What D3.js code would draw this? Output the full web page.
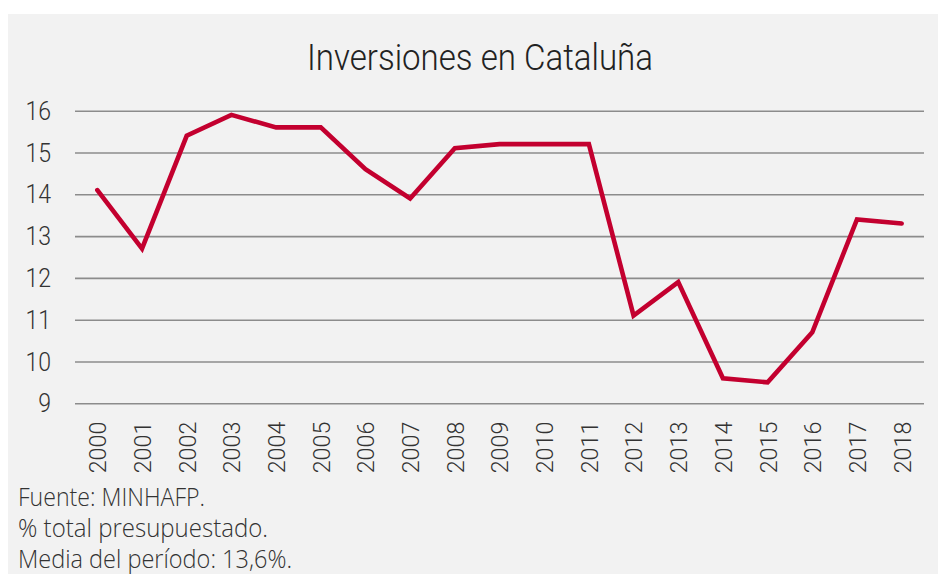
<!DOCTYPE html>
<html>
<head>
<meta charset="utf-8">
<script src="https://cdn.jsdelivr.net/npm/d3@7"></script>
<style>
  html, body { margin: 0; padding: 0; background: #ffffff; }
  svg { display: block; }
</style>
</head>
<body>
<svg id="chart" width="938" height="574"></svg>
<script>
const years = ["2000","2001","2002","2003","2004","2005","2006","2007","2008","2009","2010","2011","2012","2013","2014","2015","2016","2017","2018"];
const values = [14.1, 12.7, 15.4, 15.9, 15.6, 15.6, 14.6, 13.9, 15.1, 15.2, 15.2, 15.2, 11.1, 11.9, 9.6, 9.5, 10.7, 13.4, 13.3];
const yTicks = [9, 10, 11, 12, 13, 14, 15, 16];
const titleText = "Inversiones en Cataluña";
const notes = ["Fuente: MINHAFP.", "% total presupuestado.", "Media del período: 13,6%."];

const W = 938, H = 574;
const plot = { left: 75, right: 924, top: 110.7, bottom: 403.3 };
const svg = d3.select("#chart");

// panel background
svg.append("rect").attr("x", 8).attr("y", 14).attr("width", W - 8).attr("height", H - 14).attr("fill", "#f2f2f2");

const x = d3.scalePoint().domain(years).range([plot.left, plot.right]).padding(0.5);
const y = d3.scaleLinear().domain([9, 16]).range([plot.bottom, plot.top]);

// y axis with gridlines
const yAxis = d3.axisLeft(y).tickValues(yTicks).tickSize(-(plot.right - plot.left)).tickPadding(24).tickFormat(d3.format("d"));
const gy = svg.append("g").attr("transform", `translate(${plot.left},0)`).call(yAxis);
gy.select(".domain").remove();
gy.selectAll(".tick line").attr("stroke", "#8c8c8c").attr("stroke-width", 1.6);
gy.selectAll(".tick text")
  .attr("fill", "#333")
  .style("font-family", "Roboto, 'Noto Sans', sans-serif")
  .style("font-weight", 300)
  .style("font-size", "25px")
  .attr("dy", "0.34em")
  .attr("textLength", d => String(d).length * 12.8)
  .attr("lengthAdjust", "spacingAndGlyphs");

// x labels (rotated)
const xAxis = d3.axisBottom(x).tickSize(0).tickPadding(0);
const gx = svg.append("g").attr("transform", `translate(0,${plot.bottom})`).call(xAxis);
gx.select(".domain").remove();
gx.selectAll(".tick text")
  .attr("fill", "#333")
  .style("font-family", "Roboto, 'Noto Sans', sans-serif")
  .style("font-weight", 300)
  .style("font-size", "24px")
  .attr("text-anchor", "end")
  .attr("x", 0).attr("y", 0)
  .attr("dy", "0.35em")
  .attr("transform", "translate(0,18.4) rotate(-90)")
  .attr("textLength", 51.6)
  .attr("lengthAdjust", "spacingAndGlyphs");

// line
const line = d3.line().x((d, i) => x(years[i])).y(d => y(d));
svg.append("path")
  .datum(values)
  .attr("d", line)
  .attr("fill", "none")
  .attr("stroke", "#c3002f")
  .attr("stroke-width", 4.6)
  .attr("stroke-linecap", "round")
  .attr("stroke-linejoin", "miter");

// title
svg.append("text")
  .attr("x", 307).attr("y", 69.5)
  .attr("fill", "#222")
  .style("font-family", "Roboto, 'Noto Sans', sans-serif")
  .style("font-weight", 300)
  .style("font-size", "37px")
  .attr("textLength", 346)
  .attr("lengthAdjust", "spacingAndGlyphs")
  .text(titleText);

// notes
const noteLens = [187, 250, 274];
svg.selectAll("text.note").data(notes).enter().append("text")
  .attr("class", "note")
  .attr("x", 18).attr("y", (d, i) => 506 + i * 31)
  .attr("fill", "#333")
  .style("font-family", "'Open Sans', Roboto, sans-serif")
  .style("font-weight", 300)
  .style("font-size", "25px")
  .attr("textLength", (d, i) => noteLens[i])
  .attr("lengthAdjust", "spacingAndGlyphs")
  .text(d => d);
</script>
</body>
</html>
